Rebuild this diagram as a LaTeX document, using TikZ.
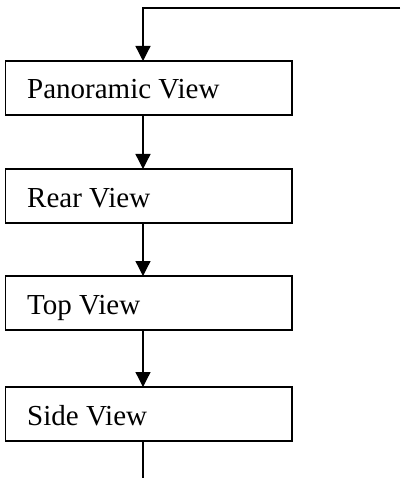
\documentclass[tikz,border=0pt]{standalone}
\usepackage{fontspec}
\setmainfont{Liberation Serif}
\usetikzlibrary{arrows.meta}
\begin{document}
\begin{tikzpicture}[x=1pt,y=-1pt,
  viewbox/.style={draw=black,line width=1.3pt,rectangle,minimum width=286.5pt,minimum height=54pt,inner sep=0pt,outer sep=0pt},
  lbl/.style={anchor=base west,inner sep=0pt,font=\fontsize{29}{34}\selectfont},
  conn/.style={line width=1.3pt,-{Triangle[length=15pt,width=15pt]}},
  plain/.style={line width=1.3pt}]
\useasboundingbox (0,0) rectangle (400,478);
\node[viewbox] (p) at (148.75,88) {};
\node[viewbox] (r) at (148.75,196) {};
\node[viewbox] (t) at (148.75,303) {};
\node[viewbox] (s) at (148.75,414) {};
\node[lbl] (pl) at (27,99) {Panoramic View};
\node[lbl] (rl) at (27,207) {Rear View};
\node[lbl] (tl) at (27,314) {Top View};
\node[lbl] (sl) at (27,425) {Side View};
\coordinate (start) at (400,8);
\coordinate (corner) at (143,8);
\coordinate (endpt) at (143,478);
\draw[conn] (start) -- (corner) -- (corner |- p.north);
\draw[conn] (corner |- p.south) -- (corner |- r.north);
\draw[conn] (corner |- r.south) -- (corner |- t.north);
\draw[conn] (corner |- t.south) -- (corner |- s.north);
\draw[plain] (corner |- s.south) -- (endpt);
\end{tikzpicture}
\end{document}
